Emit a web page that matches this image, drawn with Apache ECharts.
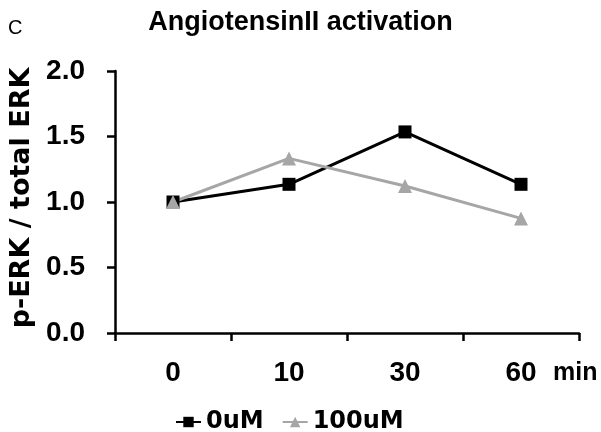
<!DOCTYPE html>
<html>
<head>
<meta charset="utf-8">
<script src="https://cdn.jsdelivr.net/npm/echarts@6/dist/echarts.min.js"></script>
<style>html,body{margin:0;padding:0;background:#fff}#c{width:601px;height:432px}</style>
</head>
<body>
<div id="c"></div>
<script>
const categories = ['0', '10', '30', '60'];
const seriesNames = ['0uM', '100uM'];
const values0uM = [1.0, 1.135, 1.535, 1.135];
const values100uM = [1.0, 1.333, 1.122, 0.875];
const yTicks = [0, 0.5, 1.0, 1.5, 2.0];

const chart = echarts.init(document.getElementById('c'));
const axisColor = '#000';
chart.setOption({
  animation: false,
  backgroundColor: '#fff',
  title: {
    text: 'AngiotensinII activation',
    left: 'center', top: 4,
    textStyle: { fontFamily: 'Liberation Sans, Arial', fontWeight: 'bold', fontSize: 27, color: '#000' }
  },
  graphic: [
    { type: 'text', left: 8, top: 18, style: { text: 'C', fontSize: 20, fontFamily: 'Liberation Sans', fill: '#000' } },
    { type: 'text', left: 553, top: 361, style: { text: 'min', fontSize: 25, fontWeight: 'bold', fontFamily: 'Liberation Sans', fill: '#000' } }
  ],
  legend: {
    data: seriesNames,
    left: 170, top: 405,
    itemWidth: 25, itemHeight: 13, itemGap: 18,
    textStyle: { fontFamily: 'DejaVu Sans', fontWeight: 'bold', fontSize: 24, color: '#000' }
  },
  grid: { left: 112, right: 22, top: 71, bottom: 99 },
  xAxis: {
    type: 'category',
    data: categories,
    boundaryGap: true,
    axisLine: { lineStyle: { color: axisColor, width: 2.5 } },
    axisTick: { show: true, length: 8, lineStyle: { color: axisColor, width: 2.5 } },
    axisLabel: { margin: 26, color: '#000', fontFamily: 'Liberation Sans, Arial', fontWeight: 'bold', fontSize: 28 },
    splitLine: { show: false }
  },
  yAxis: {
    type: 'value',
    min: yTicks[0], max: yTicks[yTicks.length - 1], interval: 0.5,
    name: 'p-ERK / total ERK',
    nameLocation: 'middle', nameRotate: 90, nameGap: 80,
    nameTextStyle: { fontFamily: 'DejaVu Sans', fontWeight: 'bold', fontSize: 27, color: '#000', padding: [0, 0, 0, 8] },
    axisLine: { show: true, lineStyle: { color: axisColor, width: 2.5 } },
    axisTick: { show: true, length: 8, lineStyle: { color: axisColor, width: 2.5 } },
    axisLabel: { margin: 30, color: '#000', fontFamily: 'Liberation Sans, Arial', fontWeight: 'bold', fontSize: 28, formatter: v => v.toFixed(1) },
    splitLine: { show: false }
  },
  series: [
    {
      name: seriesNames[0], type: 'line', data: values0uM,
      symbol: 'rect', symbolSize: 13,
      lineStyle: { color: '#000', width: 3 },
      itemStyle: { color: '#000' }
    },
    {
      name: seriesNames[1], type: 'line', data: values100uM,
      symbol: 'triangle', symbolSize: 14,
      lineStyle: { color: '#a6a6a6', width: 3 },
      itemStyle: { color: '#a6a6a6' }
    }
  ]
});
</script>
</body>
</html>
